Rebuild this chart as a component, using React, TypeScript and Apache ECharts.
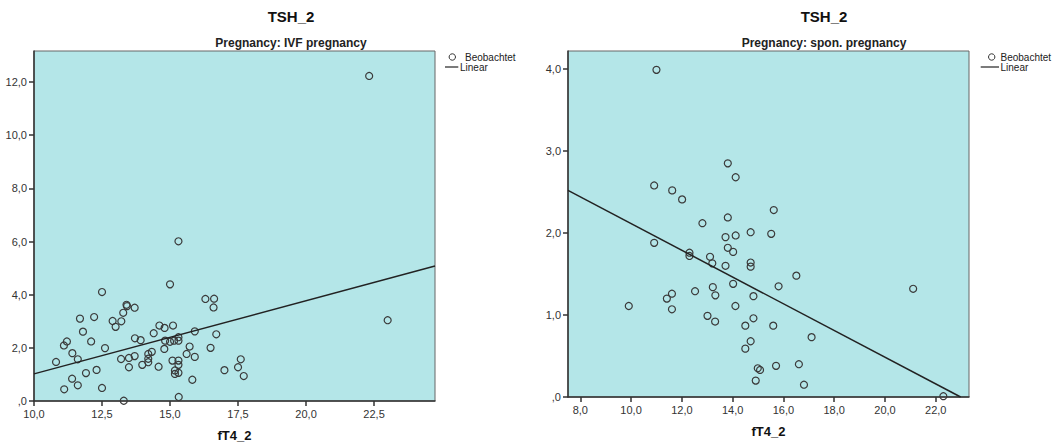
import React, { useEffect, useRef } from "react";
import * as echarts from "echarts";

// IVF pregnancy: fT4_2 (x) vs TSH_2 (y)
const ivfFT4 = [
  15.31, 15.0, 12.5, 13.4, 13.42, 13.28, 13.7, 16.3, 16.62, 16.6, 16.7, 15.91, 11.69, 12.21, 12.89, 13.21,
  13.0, 11.8, 11.21, 11.1, 12.1, 12.61, 13.71, 13.92, 14.4, 14.61, 14.8, 15.11, 14.82, 15.0, 15.15, 15.31,
  15.31, 14.79, 15.72, 15.61, 15.91, 16.49, 10.81, 11.41, 11.61, 13.2, 13.49, 13.49, 13.7, 13.98, 14.2, 14.2,
  14.2, 14.33, 14.58, 15.09, 15.31, 15.31, 15.18, 15.18, 15.31, 15.82, 17.0, 17.5, 17.6, 17.71, 11.91, 12.3,
  11.4, 11.61, 11.11, 12.5, 13.3, 15.32, 22.32, 23.0,
];
const ivfTSH = [
  6.01, 4.39, 4.1, 3.62, 3.57, 3.32, 3.51, 3.84, 3.85, 3.52, 2.51, 2.62, 3.1, 3.16, 3.01, 3.0,
  2.79, 2.61, 2.24, 2.09, 2.24, 1.99, 2.36, 2.29, 2.55, 2.84, 2.75, 2.84, 2.27, 2.23, 2.27, 2.4,
  2.27, 1.96, 2.05, 1.77, 1.66, 2.0, 1.47, 1.8, 1.57, 1.58, 1.62, 1.27, 1.69, 1.36, 1.77, 1.59,
  1.46, 1.85, 1.29, 1.52, 1.52, 1.36, 1.15, 1.02, 1.06, 0.8, 1.16, 1.27, 1.57, 0.94, 1.05, 1.17,
  0.84, 0.59, 0.44, 0.49, 0.01, 0.15, 12.23, 3.04,
];

// Spontaneous pregnancy: fT4_2 (x) vs TSH_2 (y)
const sponFT4 = [
  11.0, 13.81, 14.12, 10.91, 11.62, 12.01, 15.62, 12.81, 13.81, 10.91, 13.72, 14.12, 14.71, 15.52, 12.3, 12.3,
  13.11, 13.81, 14.02, 13.2, 13.72, 14.71, 14.71, 16.51, 15.81, 14.02, 13.22, 12.52, 13.32, 14.82, 11.61, 11.41,
  9.91, 11.61, 14.11, 13.01, 13.31, 14.82, 14.5, 15.6, 17.11, 14.71, 14.5, 14.99, 15.08, 14.91, 15.71, 21.11,
  16.61, 16.81, 22.3,
];
const sponTSH = [
  3.99, 2.85, 2.68, 2.58, 2.52, 2.41, 2.28, 2.12, 2.19, 1.88, 1.95, 1.97, 2.01, 1.99, 1.76, 1.72,
  1.71, 1.82, 1.77, 1.63, 1.6, 1.64, 1.59, 1.48, 1.35, 1.38, 1.34, 1.29, 1.24, 1.23, 1.26, 1.2,
  1.11, 1.07, 1.11, 0.99, 0.92, 0.96, 0.87, 0.87, 0.73, 0.68, 0.59, 0.35, 0.33, 0.2, 0.38, 1.32,
  0.4, 0.15, 0.01,
];

// Linear fit lines (end points)
const ivfFitX = [10, 24.74];
const ivfFitY = [1.02, 5.08];
const sponFitX = [7.516, 22.98];
const sponFitY = [2.52, 0];

// Axis ranges and ticks
const ivfXRange = [10, 24.74];
const ivfYRange = [0, 13.17];
const sponXRange = [7.516, 23.31];
const sponYRange = [0, 4.22];
const ivfXTicks = [10, 12.5, 15, 17.5, 20, 22.5];
const ivfYTicks = [0, 2, 4, 6, 8, 10, 12];
const sponXTicks = [8, 10, 12, 14, 16, 18, 20, 22];
const sponYTicks = [0, 1, 2, 3, 4];

const mainTitle = "TSH_2";
const subTitles = ["Pregnancy: IVF pregnancy", "Pregnancy: spon. pregnancy"];
const xName = "fT4_2";
const legendNames = ["Beobachtet", "Linear"];

const FONT = '"Liberation Sans", Arial, sans-serif';

const fmt = (v: number) => (Math.abs(v) < 1e-9 ? ",0" : v.toFixed(1).replace(".", ","));

function mkAxis(gridIndex: number, range: number[], ticks: number[], isX: boolean) {
  const ax: any = {
    type: "value",
    gridIndex,
    min: range[0],
    max: range[1],
    axisLine: { show: true, onZero: false, lineStyle: { color: "#333", width: 1.5 } },
    axisTick: { show: true, customValues: ticks, length: 5, lineStyle: { color: "#333", width: 1.5 } },
    axisLabel: {
      customValues: ticks,
      formatter: fmt,
      color: "#333",
      fontSize: 11,
      fontFamily: FONT,
      margin: 7,
    },
    splitLine: { show: false },
  };
  if (isX) {
    ax.name = xName;
    ax.nameLocation = "middle";
    ax.nameGap = 28;
    ax.nameTextStyle = { fontFamily: FONT, fontSize: 13, fontWeight: "bold", color: "#111" };
  }
  return ax;
}

function pairs(xs: number[], ys: number[]) {
  return xs.map((x, i) => [x, ys[i]]);
}

export default function App() {
  const ref = useRef<HTMLDivElement>(null);
  useEffect(() => {
    if (!ref.current) return;
    const chart = echarts.init(ref.current, undefined, { renderer: "svg" });

    const gridStyle = {
      show: true,
      backgroundColor: "#B4E6E8",
      borderColor: "#666",
      borderWidth: 1,
    };

    const scatterStyle = {
      type: "scatter",
      symbol: "circle",
      symbolSize: 7,
      itemStyle: { color: "rgba(0,0,0,0)", borderColor: "#3a3a3a", borderWidth: 1.2, opacity: 1 },
      clip: true,
    };
    const lineStyle = {
      type: "line",
      showSymbol: false,
      symbol: "none",
      lineStyle: { color: "#222", width: 1.5 },
      clip: true,
    };

    const texts: any[] = [];
    const titleX = [291, 824];
    titleX.forEach((cx, i) => {
      texts.push({
        type: "text",
        x: cx,
        y: 16,
        style: { text: mainTitle, font: `bold 15px ${FONT}`, fill: "#111", textAlign: "center", textVerticalAlign: "middle" },
      });
      texts.push({
        type: "text",
        x: cx,
        y: 43,
        style: { text: subTitles[i], font: `bold 12px ${FONT}`, fill: "#222", textAlign: "center", textVerticalAlign: "middle" },
      });
    });

    const legendPos = [
      { cx: 452.3, tx: 465, lx1: 445, lx2: 458.3, ltx: 460 },
      { cx: 991.7, tx: 1000.5, lx1: 980.7, lx2: 999, ltx: 1000.5 },
    ];
    legendPos.forEach((p) => {
      texts.push({
        type: "circle",
        shape: { cx: p.cx, cy: 57, r: 3.2 },
        style: { fill: "none", stroke: "#333", lineWidth: 1 },
      });
      texts.push({
        type: "text",
        x: p.tx,
        y: 57,
        style: { text: legendNames[0], font: `10px ${FONT}`, fill: "#222", textAlign: "left", textVerticalAlign: "middle" },
      });
      texts.push({
        type: "line",
        shape: { x1: p.lx1, y1: 67, x2: p.lx2, y2: 67 },
        style: { stroke: "#222", lineWidth: 1.2 },
      });
      texts.push({
        type: "text",
        x: p.ltx,
        y: 67,
        style: { text: legendNames[1], font: `10px ${FONT}`, fill: "#222", textAlign: "left", textVerticalAlign: "middle" },
      });
    });

    chart.setOption({
      animation: false,
      backgroundColor: "#fff",
      textStyle: { fontFamily: FONT },
      grid: [
        { ...gridStyle, left: 34, top: 51, width: 401, height: 351 },
        { ...gridStyle, left: 568, top: 51, width: 401, height: 346 },
      ],
      xAxis: [mkAxis(0, ivfXRange, ivfXTicks, true), mkAxis(1, sponXRange, sponXTicks, true)],
      yAxis: [mkAxis(0, ivfYRange, ivfYTicks, false), mkAxis(1, sponYRange, sponYTicks, false)],
      series: [
        { ...scatterStyle, name: legendNames[0], xAxisIndex: 0, yAxisIndex: 0, data: pairs(ivfFT4, ivfTSH) },
        { ...lineStyle, name: legendNames[1], xAxisIndex: 0, yAxisIndex: 0, data: pairs(ivfFitX, ivfFitY) },
        { ...scatterStyle, name: legendNames[0], xAxisIndex: 1, yAxisIndex: 1, data: pairs(sponFT4, sponTSH) },
        { ...lineStyle, name: legendNames[1], xAxisIndex: 1, yAxisIndex: 1, data: pairs(sponFitX, sponFitY) },
      ],
      graphic: texts,
    });

    return () => chart.dispose();
  }, []);

  return (
    <div
      ref={ref}
      style={{ position: "absolute", left: 0, top: 0, width: 1052, height: 447 }}
    />
  );
}
